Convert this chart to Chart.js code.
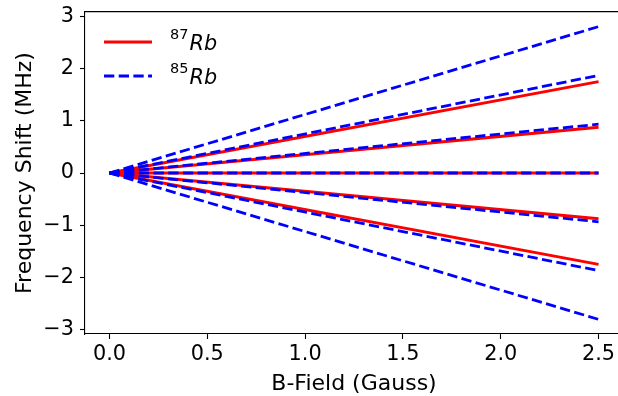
<!DOCTYPE html>
<html>
<head>
<meta charset="utf-8">
<script src="https://cdn.jsdelivr.net/npm/chart.js@4.4.1/dist/chart.umd.min.js"></script>
<style>
  html, body { margin: 0; padding: 0; background: #fff; overflow: hidden; }
  #wrap { width: 618px; height: 396px; overflow: hidden; }
  canvas { display: block; width: 624px; height: 396px; }
</style>
</head>
<body>
<div id="wrap"><canvas id="zeeman" width="624" height="396"></canvas></div>
<script>
// Magnetic field sample points (Gauss)
const bField = [0, 2.5];

// Zeeman shifts (MHz) of the 87Rb F=2 sublevels at each field value
const rb87Lines = [
  [0, 1.75],
  [0, 0.875],
  [0, 0],
  [0, -0.875],
  [0, -1.75]
];

// Zeeman shifts (MHz) of the 85Rb F=3 sublevels at each field value
const rb85Lines = [
  [0, 2.8],
  [0, 1.867],
  [0, 0.933],
  [0, 0],
  [0, -0.933],
  [0, -1.867],
  [0, -2.8]
];

const xTicks = [0, 0.5, 1.0, 1.5, 2.0, 2.5];
const yTicks = [-3, -2, -1, 0, 1, 2, 3];

const legendItems = [
  { sup: '87', name: 'Rb', color: '#ff0000', dash: [] },
  { sup: '85', name: 'Rb', color: '#0000ff', dash: [10.3, 4.4] }
];

const FONT = '"DejaVu Sans", sans-serif';

function toPoints(values) {
  return values.map((v, i) => ({ x: bField[i], y: v }));
}

const datasets = [];
rb87Lines.forEach(vals => datasets.push({
  data: toPoints(vals),
  borderColor: '#ff0000',
  borderWidth: 2.8,
  showLine: true,
  pointRadius: 0,
  order: 2
}));
rb85Lines.forEach(vals => datasets.push({
  data: toPoints(vals),
  borderColor: '#0000ff',
  borderWidth: 2.8,
  borderDash: [10.3, 4.4],
  borderCapStyle: 'butt',
  showLine: true,
  pointRadius: 0,
  order: 1
}));

// Top spine (the frame's right side lies beyond the visible width) and the mathtext-style legend
const framePlugin = {
  id: 'frame',
  afterDraw(chart) {
    const { ctx, chartArea: a } = chart;
    ctx.save();
    ctx.strokeStyle = '#000';
    ctx.lineWidth = 1.2;
    ctx.beginPath();
    ctx.moveTo(a.left, a.top - 0.3);
    ctx.lineTo(a.right, a.top - 0.3);
    ctx.stroke();

    legendItems.forEach((item, i) => {
      const y = a.top + 30 + i * 34;
      ctx.strokeStyle = item.color;
      ctx.lineWidth = 2.8;
      ctx.setLineDash(item.dash);
      ctx.lineCap = 'butt';
      ctx.beginPath();
      ctx.moveTo(a.left + 19, y);
      ctx.lineTo(a.left + 67, y);
      ctx.stroke();
      ctx.setLineDash([]);

      ctx.fillStyle = '#000';
      ctx.textBaseline = 'alphabetic';
      ctx.textAlign = 'left';
      ctx.font = '14.5px ' + FONT;
      const sx = a.left + 85;
      ctx.fillText(item.sup, sx, y - 3);
      const sw = ctx.measureText(item.sup).width;
      ctx.font = 'italic 20.8px ' + FONT;
      ctx.fillText(item.name, sx + sw + 1, y + 8);
    });
    ctx.restore();
  }
};

new Chart(document.getElementById('zeeman'), {
  type: 'scatter',
  data: { datasets },
  options: {
    responsive: false,
    animation: false,
    layout: { padding: { left: 0, right: 1, top: 12, bottom: 0 } },
    plugins: { legend: { display: false }, tooltip: { enabled: false } },
    scales: {
      x: {
        type: 'linear',
        min: -0.125,
        max: 2.625,
        afterBuildTicks: s => { s.ticks = xTicks.map(v => ({ value: v })); },
        afterFit: s => { s.height = 62; s.paddingLeft = 0; s.paddingRight = 0; },
        border: { display: true, color: '#000', width: 1.1 },
        grid: { drawOnChartArea: false, drawTicks: true, tickLength: 5, tickColor: '#000', tickWidth: 1.1 },
        ticks: {
          color: '#000',
          padding: 3,
          maxRotation: 0,
          font: { family: FONT, size: 20.8 },
          callback: v => v.toFixed(1)
        },
        title: {
          display: true,
          text: 'B-Field (Gauss)',
          color: '#000',
          font: { family: FONT, size: 22, lineHeight: 1.0 },
          padding: { top: 0, bottom: 1 }
        }
      },
      y: {
        min: -3.08,
        max: 3.08,
        afterBuildTicks: s => { s.ticks = yTicks.map(v => ({ value: v })); },
        afterFit: s => { s.width = 85; s.paddingTop = 0; s.paddingBottom = 0; },
        border: { display: true, color: '#000', width: 1.1 },
        grid: { drawOnChartArea: false, drawTicks: true, tickLength: 5, tickColor: '#000', tickWidth: 1.1 },
        ticks: {
          color: '#000',
          padding: 6,
          font: { family: FONT, size: 20.8 },
          callback: v => (v < 0 ? '\u2212' + Math.abs(v) : String(v))
        },
        title: {
          display: true,
          text: 'Frequency Shift (MHz)',
          color: '#000',
          font: { family: FONT, size: 22, lineHeight: 1.2 },
          padding: { top: 12, bottom: 0 }
        }
      }
    }
  },
  plugins: [framePlugin]
});
</script>
</body>
</html>
